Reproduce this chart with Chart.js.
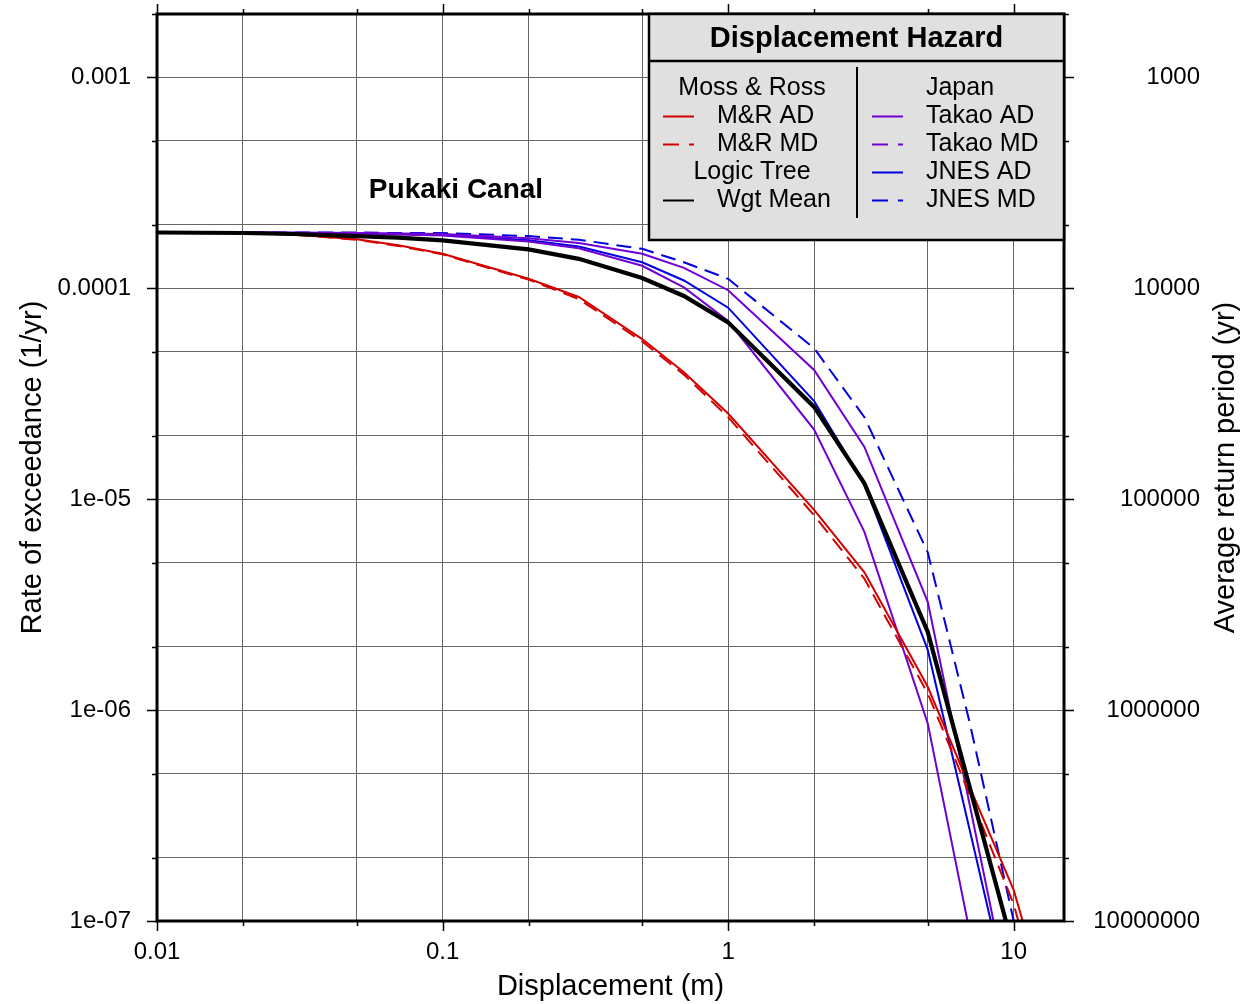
<!DOCTYPE html>
<html>
<head>
<meta charset="utf-8">
<script src="https://cdn.jsdelivr.net/npm/chart.js@4.4.1/dist/chart.umd.min.js"></script>
<style>
html, body { margin: 0; padding: 0; background: #fff; }
canvas { display: block; }
</style>
</head>
<body>
<canvas id="c" width="1247" height="1004"></canvas>
<script>
// ---------------- data ----------------
const displacement = [0.01, 0.02, 0.03, 0.05, 0.07, 0.1, 0.2, 0.3, 0.5, 0.7, 1, 2, 3, 5, 7, 10, 20];

const wgtMean  = [1.84e-4, 1.83e-4, 1.81e-4, 1.77e-4, 1.74e-4, 1.69e-4, 1.53e-4, 1.38e-4, 1.12e-4, 9.2e-5, 6.9e-5, 2.74e-5, 1.19e-5, 2.35e-6, 4.35e-7, 7.3e-8, 2.3e-9];
const mrAD     = [1.84e-4, 1.83e-4, 1.80e-4, 1.71e-4, 1.60e-4, 1.46e-4, 1.11e-4, 9.1e-5, 5.75e-5, 4.0e-5, 2.55e-5, 8.9e-6, 4.5e-6, 1.29e-6, 4.35e-7, 1.4e-7, 5.6e-9];
const mrMD     = [1.84e-4, 1.83e-4, 1.80e-4, 1.70e-4, 1.59e-4, 1.45e-4, 1.10e-4, 8.9e-5, 5.6e-5, 3.9e-5, 2.45e-5, 8.4e-6, 4.2e-6, 1.2e-6, 4.0e-7, 1.2e-7, 4.0e-9];
const takaoAD  = [1.84e-4, 1.84e-4, 1.83e-4, 1.82e-4, 1.80e-4, 1.78e-4, 1.67e-4, 1.55e-4, 1.28e-4, 1.01e-4, 7.0e-5, 2.14e-5, 7.0e-6, 8.65e-7, 9.0e-8, 8.0e-9, 1.0e-11];
const takaoMD  = [1.84e-4, 1.84e-4, 1.84e-4, 1.83e-4, 1.82e-4, 1.81e-4, 1.73e-4, 1.64e-4, 1.46e-4, 1.25e-4, 9.8e-5, 4.1e-5, 1.77e-5, 3.26e-6, 3.6e-7, 3.4e-8, 1.0e-10];
const jnesAD   = [1.84e-4, 1.84e-4, 1.83e-4, 1.82e-4, 1.81e-4, 1.79e-4, 1.69e-4, 1.58e-4, 1.33e-4, 1.09e-4, 8.1e-5, 2.92e-5, 1.18e-5, 1.93e-6, 2.73e-7, 3.4e-8, 1.0e-10];
const jnesMD   = [1.84e-4, 1.84e-4, 1.84e-4, 1.84e-4, 1.83e-4, 1.83e-4, 1.77e-4, 1.70e-4, 1.54e-4, 1.33e-4, 1.11e-4, 5.2e-5, 2.45e-5, 5.6e-6, 8.8e-7, 1.0e-7, 1.0e-10];

const xTickValues = [0.01, 0.02, 0.05, 0.1, 0.2, 0.5, 1, 2, 5, 10];
const xTickLabels = ['0.01', '0.1', '1', '10'];
const rateTickValues = [1e-7, 2e-7, 5e-7, 1e-6, 2e-6, 5e-6, 1e-5, 2e-5, 5e-5, 1e-4, 2e-4, 5e-4, 1e-3, 2e-3];
const rateTickLabels = ['1e-07', '1e-06', '1e-05', '0.0001', '0.001'];
const periodTickValues = [1e3, 1e4, 1e5, 1e6, 1e7];
const periodTickLabels = ['1000', '10000', '100000', '1000000', '10000000'];

const siteName = 'Pukaki Canal';
const legendTitle = 'Displacement Hazard';

// ---------------- styles ----------------
const RED = '#d40000', PURPLE = '#7000d2', BLUE = '#0000e0', BLACK = '#000000';
const FONT = '"Liberation Sans", Arial, Helvetica, sans-serif';

const isDecade = v => Math.abs(Math.log10(v) - Math.round(Math.log10(v))) < 1e-6;
const pts = arr => displacement.map((x, i) => ({ x: x, y: arr[i] }));
const noPad = s => { s.paddingTop = 0; s.paddingBottom = 0; s.paddingLeft = 0; s.paddingRight = 0; };

const datasets = [
  { label: 'Wgt Mean', data: pts(wgtMean), borderColor: BLACK, borderWidth: 4.2, order: 0 },
  { label: 'M&R AD', data: pts(mrAD), borderColor: RED, borderWidth: 2, order: 1 },
  { label: 'M&R MD', data: pts(mrMD), borderColor: RED, borderWidth: 2, borderDash: [15, 8], order: 2 },
  { label: 'Takao AD', data: pts(takaoAD), borderColor: PURPLE, borderWidth: 2, order: 3 },
  { label: 'Takao MD', data: pts(takaoMD), borderColor: PURPLE, borderWidth: 2, order: 4 },
  { label: 'JNES AD', data: pts(jnesAD), borderColor: BLUE, borderWidth: 2, order: 5 },
  { label: 'JNES MD', data: pts(jnesMD), borderColor: BLUE, borderWidth: 2, borderDash: [15, 8], order: 6 }
].map(d => Object.assign({ pointRadius: 0, tension: 0, fill: false }, d));

// legend layout: [text, kind, colour, dash]
const legendLeft = [
  ['Moss & Ross', 'head'],
  ['M&R AD', 'line', RED, []],
  ['M&R MD', 'line', RED, [16, 10]],
  ['Logic Tree', 'head'],
  ['Wgt Mean', 'line', BLACK, []]
];
const legendRight = [
  ['Japan', 'head'],
  ['Takao AD', 'line', PURPLE, []],
  ['Takao MD', 'line', PURPLE, [16, 10]],
  ['JNES AD', 'line', BLUE, []],
  ['JNES MD', 'line', BLUE, [16, 10]]
];

const decorations = {
  id: 'decorations',
  afterDatasetsDraw(chart) {
    const { ctx, chartArea: a, scales } = chart;
    const xs = scales.x, ys = scales.y;
    ctx.save();
    ctx.strokeStyle = '#000';
    ctx.lineWidth = 1.5;
    ctx.beginPath();
    xTickValues.forEach(v => {
      const p = Math.round(xs.getPixelForValue(v)) + 0.5;
      const L = isDecade(v) ? 10 : 5;
      ctx.moveTo(p, a.bottom); ctx.lineTo(p, a.bottom + L);
      ctx.moveTo(p, a.top); ctx.lineTo(p, a.top - L);
    });
    rateTickValues.forEach(v => {
      const p = Math.round(ys.getPixelForValue(v)) + 0.5;
      const L = isDecade(v) ? 10 : 5;
      ctx.moveTo(a.left, p); ctx.lineTo(a.left - L, p);
      ctx.moveTo(a.right, p); ctx.lineTo(a.right + L, p);
    });
    ctx.stroke();
    ctx.lineWidth = 3;
    ctx.strokeRect(a.left, a.top, a.right - a.left, a.bottom - a.top);
    ctx.fillStyle = '#000';
    ctx.font = 'bold 28px ' + FONT;
    ctx.textAlign = 'center';
    ctx.textBaseline = 'middle';
    ctx.fillText(siteName, a.left + 299, a.top + 176);
    ctx.restore();
  },
  afterDraw(chart) {
    const { ctx, chartArea: a } = chart;
    ctx.save();
    ctx.fillStyle = '#000';
    ctx.font = '29px ' + FONT;
    ctx.textAlign = 'center';
    ctx.textBaseline = 'middle';
    ctx.translate(chart.width - 21, (a.top + a.bottom) / 2);
    ctx.rotate(-Math.PI / 2);
    ctx.fillText('Average return period (yr)', 0, 0);
    ctx.restore();

    ctx.save();
    const L = a.right - 415, T = a.top, R = a.right, B = a.top + 226;
    ctx.fillStyle = '#e0e0e0';
    ctx.fillRect(L, T, R - L, B - T);
    ctx.strokeStyle = '#000';
    ctx.lineWidth = 2.5;
    ctx.strokeRect(L, T, R - L, B - T);
    ctx.beginPath();
    ctx.moveTo(L, T + 47); ctx.lineTo(R, T + 47);
    ctx.stroke();
    ctx.lineWidth = 2;
    ctx.beginPath();
    ctx.moveTo(L + 208, T + 53); ctx.lineTo(L + 208, T + 204);
    ctx.stroke();
    ctx.fillStyle = '#000';
    ctx.textBaseline = 'middle';
    ctx.textAlign = 'center';
    ctx.font = 'bold 29px ' + FONT;
    ctx.fillText(legendTitle, (L + R) / 2, T + 25);
    ctx.font = '25px ' + FONT;
    const drawCol = (rows, headX, lineX, textX) => {
      rows.forEach((r, i) => {
        const yy = T + 74 + i * 28;
        if (r[1] === 'head') {
          ctx.textAlign = 'center';
          ctx.fillText(r[0], headX, yy);
        } else {
          ctx.save();
          ctx.strokeStyle = r[2];
          ctx.lineWidth = 2;
          ctx.setLineDash(r[3]);
          ctx.beginPath();
          ctx.moveTo(lineX, yy + 0.5); ctx.lineTo(lineX + 31, yy + 0.5);
          ctx.stroke();
          ctx.restore();
          ctx.textAlign = 'left';
          ctx.fillText(r[0], textX, yy);
        }
      });
    };
    drawCol(legendLeft, L + 103, L + 14, L + 68);
    drawCol(legendRight, L + 311, L + 223, L + 277);
    ctx.restore();
  }
};

new Chart(document.getElementById('c'), {
  type: 'line',
  data: { datasets: datasets },
  options: {
    responsive: false,
    animation: false,
    devicePixelRatio: 1,
    layout: { padding: { top: 14, left: 0, right: 47, bottom: 0 } },
    plugins: { legend: { display: false }, tooltip: { enabled: false } },
    scales: {
      x: {
        type: 'logarithmic',
        position: 'bottom',
        min: 0.01,
        max: 15,
        afterBuildTicks: s => { s.ticks = xTickValues.map(v => ({ value: v })); },
        afterFit: s => { s.height = 83; noPad(s); },
        ticks: {
          autoSkip: false,
          maxRotation: 0,
          padding: 17,
          color: '#000',
          font: { family: FONT, size: 24 },
          callback: v => isDecade(v) ? xTickLabels[Math.round(Math.log10(v)) + 2] : ''
        },
        grid: { color: '#666', lineWidth: 1, drawTicks: false },
        border: { display: false },
        title: { display: true, text: 'Displacement (m)', color: '#000', font: { family: FONT, size: 29 }, padding: { top: 0, bottom: 0 } }
      },
      y: {
        type: 'logarithmic',
        position: 'left',
        min: 1e-7,
        max: 2e-3,
        afterBuildTicks: s => { s.ticks = rateTickValues.map(v => ({ value: v })); },
        afterFit: s => { s.width = 157; noPad(s); },
        ticks: {
          autoSkip: false,
          padding: 26,
          color: '#000',
          font: { family: FONT, size: 24 },
          callback: v => isDecade(v) ? rateTickLabels[Math.round(Math.log10(v)) + 7] : ''
        },
        grid: { color: '#666', lineWidth: 1, drawTicks: false },
        border: { display: false },
        title: { display: true, text: 'Rate of exceedance (1/yr)', color: '#000', font: { family: FONT, size: 29 }, padding: { top: 16, bottom: 0 } }
      },
      y2: {
        type: 'logarithmic',
        position: 'right',
        reverse: true,
        min: 500,
        max: 1e7,
        afterBuildTicks: s => { s.ticks = periodTickValues.map(v => ({ value: v })); },
        afterFit: s => { s.width = 136; noPad(s); },
        ticks: {
          autoSkip: false,
          padding: 24,
          crossAlign: 'far',
          color: '#000',
          font: { family: FONT, size: 24 },
          callback: v => periodTickLabels[Math.round(Math.log10(v)) - 3]
        },
        grid: { display: false, drawTicks: false },
        border: { display: false },
        title: { display: false }
      }
    }
  },
  plugins: [decorations]
});
</script>
</body>
</html>
